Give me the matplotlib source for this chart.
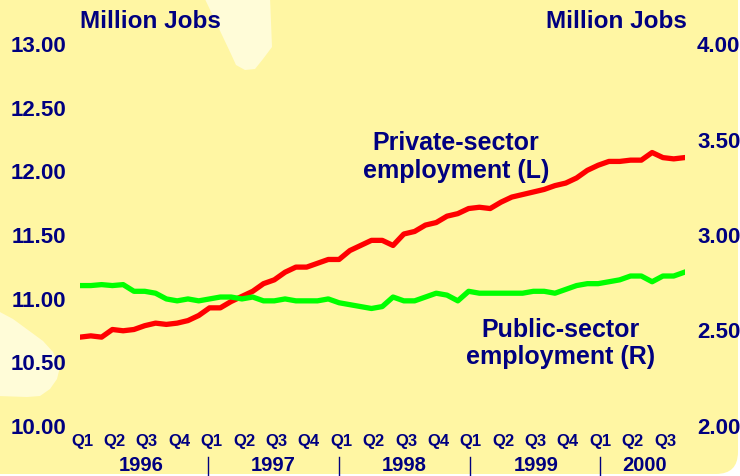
import matplotlib
matplotlib.use("Agg")
import matplotlib.pyplot as plt
from matplotlib.patches import Polygon, FancyBboxPatch
import numpy as np

plt.rcParams['font.family'] = ['Liberation Sans', 'DejaVu Sans']

# Monthly data, Jan 1996 - Sep 2000
private_sector = [10.69, 10.70, 10.69, 10.75, 10.74, 10.75, 10.78, 10.80, 10.79, 10.80,
                  10.82, 10.86, 10.92, 10.92, 10.97, 11.01, 11.05, 11.11, 11.14, 11.20,
                  11.24, 11.24, 11.27, 11.30, 11.30, 11.37, 11.41, 11.45, 11.45, 11.41,
                  11.50, 11.52, 11.57, 11.59, 11.64, 11.66, 11.70, 11.71, 11.70, 11.75,
                  11.79, 11.81, 11.83, 11.85, 11.88, 11.90, 11.94, 12.00, 12.04, 12.07,
                  12.07, 12.08, 12.08, 12.14, 12.10, 12.09, 12.10]
public_sector = [2.73, 2.73, 2.735, 2.73, 2.735, 2.70, 2.70, 2.69, 2.66, 2.65,
                 2.66, 2.65, 2.66, 2.67, 2.67, 2.66, 2.67, 2.65, 2.65, 2.66,
                 2.65, 2.65, 2.65, 2.66, 2.64, 2.63, 2.62, 2.61, 2.62, 2.67,
                 2.65, 2.65, 2.67, 2.69, 2.68, 2.65, 2.70, 2.69, 2.69, 2.69,
                 2.69, 2.69, 2.70, 2.70, 2.69, 2.71, 2.73, 2.74, 2.74, 2.75,
                 2.76, 2.78, 2.78, 2.75, 2.78, 2.78, 2.80]
quarter_labels = ['Q1', 'Q2', 'Q3', 'Q4'] * 4 + ['Q1', 'Q2', 'Q3']
years = ['1996', '1997', '1998', '1999', '2000']
year_centers = [5.65, 17.9, 30.0, 42.3, 52.3]
year_separators = [11.9, 24.0, 36.1, 48.2]
left_ticks = [10.0, 10.5, 11.0, 11.5, 12.0, 12.5, 13.0]
right_ticks = [2.0, 2.5, 3.0, 3.5, 4.0]

navy = '#000080'
bg = '#FFF6A3'
light = '#FFFCD8'

W, H = 740, 477
fig = plt.figure(figsize=(W / 100, H / 100), dpi=100)
fig.patch.set_facecolor('white')

# Background with rounded bottom-right corner
box = FancyBboxPatch((-40 / W, 2 / H), (738 + 40) / W, (H + 40) / H,
                     boxstyle="round,pad=0,rounding_size=%f" % (22 / W),
                     mutation_aspect=W / H,
                     transform=fig.transFigure, facecolor=bg, edgecolor='none', zorder=-3)
fig.patches.append(box)

def px(points):
    return [(x / W, (H - y) / H) for x, y in points]

top_blob = [(204, -2), (270, -2), (272, 48), (263, 60), (255, 70), (245, 71),
            (236, 66), (231, 55)]
left_blob = [(-2, 312), (13, 320), (43, 342), (53, 353), (60, 368), (57, 380),
             (50, 390), (40, 397), (27, 398), (-2, 397)]
for pts in (top_blob, left_blob):
    fig.patches.append(Polygon(px(pts), closed=True, transform=fig.transFigure,
                               facecolor=light, edgecolor='none', zorder=-2))

left, right = 80 / W, 684.5 / W
bottom, top = (H - 426) / H, (H - 44) / H
ax = fig.add_axes([left, bottom, right - left, top - bottom])
ax.set_facecolor('none')
ax2 = ax.twinx()
ax2.set_facecolor('none')

months = np.arange(len(private_sector))
ax.plot(months, private_sector, color='#FF0000', lw=3.8, solid_joinstyle='round')
ax2.plot(months, public_sector, color='#00FF00', lw=3.8, solid_joinstyle='round')

ax.set_xlim(0, len(private_sector) - 1)
ax.set_ylim(10, 13)
ax2.set_ylim(2, 4)
ax.set_yticks(left_ticks)
ax.set_yticklabels([f'{v:.2f}' for v in left_ticks])
ax2.set_yticks(right_ticks)
ax2.set_yticklabels([f'{v:.2f}' for v in right_ticks])
ax.set_xticks([])
for a in (ax, ax2):
    for s in a.spines.values():
        s.set_visible(False)
ax.tick_params(axis='y', length=0, pad=10, labelsize=16, labelcolor=navy)
ax2.tick_params(axis='y', length=0, pad=9, labelsize=16, labelcolor=navy)
for lab in ax.get_yticklabels() + ax2.get_yticklabels():
    lab.set_fontweight('bold')

# Quarter labels
for i, q in enumerate(quarter_labels):
    ax.annotate(q, xy=(3 * i + 0.2, 0), xycoords=('data', 'axes fraction'),
                xytext=(0, -11), textcoords='offset points',
                ha='center', va='center', fontsize=12, fontweight='bold',
                color=navy, annotation_clip=False)
# Year labels
for yc, yr in zip(year_centers, years):
    ax.annotate(yr, xy=(yc, 0), xycoords=('data', 'axes fraction'),
                xytext=(0, -28.5), textcoords='offset points',
                ha='center', va='center', fontsize=14.5, fontweight='bold',
                color=navy, annotation_clip=False)
axh = (top - bottom) * H
for s in year_separators:
    ax.plot([s, s], [-32 / axh, -51 / axh], transform=ax.get_xaxis_transform(),
            color=navy, lw=1.0, clip_on=False)

fig.text(80 / W, (H - 22) / H, 'Million Jobs', ha='left', va='center',
         fontsize=17.5, fontweight='bold', color=navy)
fig.text(687 / W, (H - 22) / H, 'Million Jobs', ha='right', va='center',
         fontsize=17.5, fontweight='bold', color=navy)

ax.text(34.85, 12.11, 'Private-sector\nemployment (L)', ha='center', va='center',
        fontsize=18, fontweight='bold', color=navy, linespacing=1.2, zorder=5)
ax.text(44.5, 10.648, 'Public-sector\nemployment (R)', ha='center', va='center',
        fontsize=18, fontweight='bold', color=navy, linespacing=1.2, zorder=5)

fig.savefig('out.png', dpi=100, facecolor=fig.get_facecolor())
